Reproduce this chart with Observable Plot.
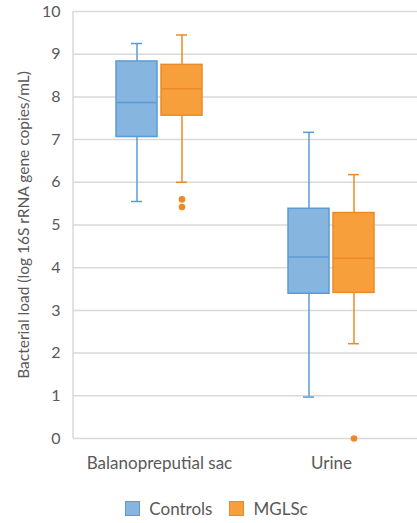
<!DOCTYPE html>
<html>
<head>
<meta charset="utf-8">
<script src="https://cdn.jsdelivr.net/npm/d3@7"></script>
<script src="https://cdn.jsdelivr.net/npm/@observablehq/plot@0.6"></script>
<style>
  body { margin: 0; background: #fff; font-family: Lato, sans-serif; }
  #legend { display: flex; justify-content: center; align-items: center; gap: 17px; margin-top: 18px; color: #595959; font-size: 17px; padding-left: 16px; }
  .item { display: flex; align-items: center; gap: 9px; }
  .sw { width: 15px; height: 15px; box-sizing: border-box; border: 1.5px solid; }
  g[aria-label="y-axis tick label"] text, g[aria-label="y-axis tick label"] { font-size: 16px; }
  g[aria-label="y-axis label"] text, g[aria-label="y-axis label"] { font-size: 15.5px; }
</style>
</head>
<body>
<div id="chart"></div>
<div id="legend"></div>
<script>
const categories = ["Balanopreputial sac", "Urine"];
const groups = ["Controls", "MGLSc"];
const fills = ["#86b5e0", "#f79f3a"];
const strokes = ["#5b9bd5", "#ed8a28"];

// one entry per box
const boxCategory = ["Balanopreputial sac", "Balanopreputial sac", "Urine", "Urine"];
const boxGroup = ["Controls", "MGLSc", "Controls", "MGLSc"];
const whiskerLow = [5.55, 6.0, 0.97, 2.22];
const q1 = [7.06, 7.56, 3.39, 3.41];
const median = [7.87, 8.19, 4.25, 4.22];
const q3 = [8.83, 8.75, 5.38, 5.28];
const whiskerHigh = [9.25, 9.45, 7.17, 6.18];

const outlierCategory = ["Balanopreputial sac", "Balanopreputial sac", "Urine"];
const outlierGroup = ["MGLSc", "MGLSc", "MGLSc"];
const outlierValue = [5.6, 5.42, 0];

const yTicks = [0, 1, 2, 3, 4, 5, 6, 7, 8, 9, 10];
const yLabel = "Bacterial load (log 16S rRNA gene copies/mL)";

const boxes = boxCategory.map((c, i) => ({
  category: c, group: boxGroup[i], lo: whiskerLow[i], q1: q1[i], med: median[i], q3: q3[i], hi: whiskerHigh[i]
}));
const outliers = outlierCategory.map((c, i) => ({category: c, group: outlierGroup[i], value: outlierValue[i]}));

const groupMarks = groups.flatMap((g, gi) => {
  const b = boxes.filter(d => d.group === g);
  const o = outliers.filter(d => d.group === g);
  const s = strokes[gi];
  return [
    Plot.ruleX(b, {fx: "category", x: "group", y1: "lo", y2: "q1", stroke: s, strokeWidth: 1.5}),
    Plot.ruleX(b, {fx: "category", x: "group", y1: "q3", y2: "hi", stroke: s, strokeWidth: 1.5}),
    Plot.tickY(b, {fx: "category", x: "group", y: "lo", stroke: s, strokeWidth: 1.5, insetLeft: 15, insetRight: 15}),
    Plot.tickY(b, {fx: "category", x: "group", y: "hi", stroke: s, strokeWidth: 1.5, insetLeft: 15, insetRight: 15}),
    Plot.barY(b, {fx: "category", x: "group", y1: "q1", y2: "q3", fill: fills[gi], stroke: s, strokeWidth: 1.5}),
    Plot.tickY(b, {fx: "category", x: "group", y: "med", stroke: s, strokeWidth: 1.5}),
    Plot.dot(o, {fx: "category", x: "group", y: "value", r: 3.3, fill: s, stroke: null})
  ];
});

const plot = Plot.plot({
  width: 417,
  height: 480,
  marginLeft: 73,
  marginRight: 0,
  marginTop: 11,
  marginBottom: 42,
  style: {fontSize: "17px", fontFamily: "Lato, sans-serif", color: "#595959", background: "#fff"},
  fx: {domain: categories, padding: 0, axis: "bottom", label: null, tickSize: 0, tickPadding: 18},
  x: {domain: groups, axis: null, paddingInner: 0.09, paddingOuter: 0.93},
  y: {domain: [0, 10], ticks: yTicks, tickSize: 0, tickPadding: 13, label: yLabel, labelAnchor: "center", labelOffset: 56, labelArrow: false},
  marks: [
    Plot.gridY(yTicks, {stroke: "#d9d9d9", strokeOpacity: 1, strokeWidth: 1.5}),
    ...groupMarks
  ]
});

// strip any arrow from the axis label
d3.select(plot).selectAll("text").each(function() {
  const t = d3.select(this);
  const s = t.text();
  if (s.includes("→") || s.includes("↑")) t.text(s.replace(/\s*[→↑]\s*/g, ""));
});

// left axis line along the y range
const ys = plot.scale("y");
d3.select(plot).insert("line", ":nth-child(2)")
  .attr("x1", 73).attr("x2", 73)
  .attr("y1", ys.apply(0)).attr("y2", ys.apply(10))
  .attr("stroke", "#d9d9d9").attr("stroke-width", 1.5);

document.getElementById("chart").append(plot);

const legend = document.getElementById("legend");
groups.forEach((g, i) => {
  const item = document.createElement("div");
  item.className = "item";
  const sw = document.createElement("div");
  sw.className = "sw";
  sw.style.background = fills[i];
  sw.style.borderColor = strokes[i];
  const t = document.createElement("span");
  t.textContent = g;
  item.append(sw, t);
  legend.append(item);
});
</script>
</body>
</html>
